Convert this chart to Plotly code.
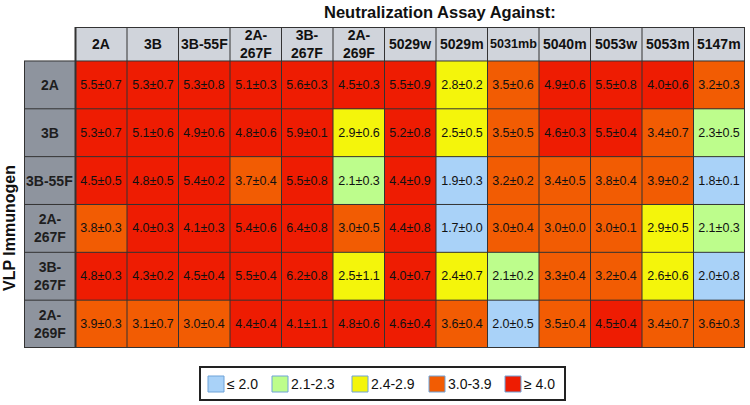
import plotly.graph_objects as go

# ---------------- data ----------------
col_labels = ["2A", "3B", "3B-55F", "2A-<br>267F", "3B-<br>267F", "2A-<br>269F",
              "5029w", "5029m", "5031mb", "5040m", "5053w", "5053m", "5147m"]
row_labels = ["2A", "3B", "3B-55F", "2A-<br>267F", "3B-<br>267F", "2A-<br>269F"]

mean_2A     = [5.5, 5.3, 5.3, 5.1, 5.6, 4.5, 5.5, 2.8, 3.5, 4.9, 5.5, 4.0, 3.2]
sd_2A       = [0.7, 0.7, 0.8, 0.3, 0.3, 0.3, 0.9, 0.2, 0.6, 0.6, 0.8, 0.6, 0.3]
mean_3B     = [5.3, 5.1, 4.9, 4.8, 5.9, 2.9, 5.2, 2.5, 3.5, 4.6, 5.5, 3.4, 2.3]
sd_3B       = [0.7, 0.6, 0.6, 0.6, 0.1, 0.6, 0.8, 0.5, 0.5, 0.3, 0.4, 0.7, 0.5]
mean_3B55F  = [4.5, 4.8, 5.4, 3.7, 5.5, 2.1, 4.4, 1.9, 3.2, 3.4, 3.8, 3.9, 1.8]
sd_3B55F    = [0.5, 0.5, 0.2, 0.4, 0.8, 0.3, 0.9, 0.3, 0.2, 0.5, 0.4, 0.2, 0.1]
mean_2A267F = [3.8, 4.0, 4.1, 5.4, 6.4, 3.0, 4.4, 1.7, 3.0, 3.0, 3.0, 2.9, 2.1]
sd_2A267F   = [0.3, 0.3, 0.3, 0.6, 0.8, 0.5, 0.8, 0.0, 0.4, 0.0, 0.1, 0.5, 0.3]
mean_3B267F = [4.8, 4.3, 4.5, 5.5, 6.2, 2.5, 4.0, 2.4, 2.1, 3.3, 3.2, 2.6, 2.0]
sd_3B267F   = [0.3, 0.2, 0.4, 0.4, 0.8, 1.1, 0.7, 0.7, 0.2, 0.4, 0.4, 0.6, 0.8]
mean_2A269F = [3.9, 3.1, 3.0, 4.4, 4.1, 4.8, 4.6, 3.6, 2.0, 3.5, 4.5, 3.4, 3.6]
sd_2A269F   = [0.3, 0.7, 0.4, 0.4, 1.1, 0.6, 0.4, 0.4, 0.5, 0.4, 0.4, 0.7, 0.3]

means = [mean_2A, mean_3B, mean_3B55F, mean_2A267F, mean_3B267F, mean_2A269F]
sds = [sd_2A, sd_3B, sd_3B55F, sd_2A267F, sd_3B267F, sd_2A269F]

legend_labels = ["≤ 2.0", "2.1-2.3", "2.4-2.9", "3.0-3.9", "≥ 4.0"]
class_upper = [2.0, 2.3, 2.9, 3.9]  # upper bounds of first four classes

# ---------------- styles ----------------
class_colors = ["#a9d2f8", "#bdfd8c", "#f4f50b", "#f25c03", "#ee1c02"]
col_head_color = "#d0d4db"
row_head_color = "#8e949e"
border = "#333333"
FONT = "Liberation Sans, Arial, Helvetica, sans-serif"

def classify(v):
    for i, ub in enumerate(class_upper):
        if v <= ub + 1e-9:
            return i
    return 4

z = [[classify(v) for v in row] for row in means]
text = [[f"{m:.1f}±{s:.1f}" for m, s in zip(mr, sr)] for mr, sr in zip(means, sds)]

n_cols = len(col_labels)
n_rows = len(row_labels)
head_h = 0.71  # header row height in row units

cs = []
for i, c in enumerate(class_colors):
    cs.append([i / 5, c])
    cs.append([(i + 1) / 5, c])

fig = go.Figure()

fig.add_trace(go.Heatmap(
    x=list(range(n_cols)), y=list(range(n_rows)), z=z,
    zmin=-0.5, zmax=4.5, colorscale=cs, showscale=False,
    text=text, texttemplate="%{text}",
    textfont=dict(size=12.5, color="#111111", family=FONT),
    hoverinfo="skip"))

# column header cells
fig.add_trace(go.Heatmap(
    x=list(range(n_cols)), y=[-0.5 - head_h, -0.5], z=[[0] * n_cols],
    colorscale=[[0, col_head_color], [1, col_head_color]], showscale=False,
    hoverinfo="skip"))

# row header cells
fig.add_trace(go.Heatmap(
    x=[-1.5, -0.5], y=list(range(n_rows)), z=[[0] for _ in range(n_rows)],
    colorscale=[[0, row_head_color], [1, row_head_color]], showscale=False,
    hoverinfo="skip"))

shapes = []
# grid lines
for j in range(n_cols + 1):
    x = j - 0.5
    w = 2 if j in (0, n_cols) else 1
    shapes.append(dict(type="line", xref="x", yref="y", x0=x, x1=x,
                       y0=-0.5 - head_h, y1=n_rows - 0.5, line=dict(color=border, width=w)))
shapes.append(dict(type="line", xref="x", yref="y", x0=-1.5, x1=-1.5,
                   y0=-0.5, y1=n_rows - 0.5, line=dict(color=border, width=2)))
for i in range(n_rows + 1):
    y = i - 0.5
    w = 2 if i == n_rows else 1
    shapes.append(dict(type="line", xref="x", yref="y", x0=-1.5, x1=n_cols - 0.5,
                       y0=y, y1=y, line=dict(color=border, width=w)))
shapes.append(dict(type="line", xref="x", yref="y", x0=-0.5, x1=n_cols - 0.5,
                   y0=-0.5 - head_h, y1=-0.5 - head_h, line=dict(color=border, width=2)))

annotations = []
for j, lab in enumerate(col_labels):
    size = 12.6 if lab == "5031mb" else 14
    annotations.append(dict(x=j, y=-0.5 - head_h / 2, xref="x", yref="y", text=f"<b>{lab}</b>",
                            showarrow=False, font=dict(size=size, color="#111111", family=FONT)))
for i, lab in enumerate(row_labels):
    annotations.append(dict(x=-1, y=i, xref="x", yref="y", text=f"<b>{lab}</b>",
                            showarrow=False, font=dict(size=14, color="#1e1e1e", family=FONT)))

# pixel helpers for paper coordinates
L, R, T, B = 24, 745, 27, 348
def px(p):
    return (p - L) / (R - L)
def py(p):
    return (B - p) / (B - T)

annotations.append(dict(x=px(440), y=py(12), xref="paper", yref="paper",
                        xanchor="center", yanchor="middle",
                        text="<b>Neutralization Assay Against:</b>", showarrow=False,
                        font=dict(size=16.5, color="#111111", family=FONT)))
annotations.append(dict(x=px(9), y=py(228), xref="paper", yref="paper",
                        xanchor="center", yanchor="middle",
                        text="<b>VLP Immunogen</b>", showarrow=False, textangle=-90,
                        font=dict(size=16, color="#111111", family=FONT)))

# legend box
shapes.append(dict(type="rect", xref="paper", yref="paper", x0=px(200), x1=px(565),
                   y0=py(400), y1=py(367), line=dict(color="#222222", width=2),
                   fillcolor="white"))
sw_x = [208, 272, 352, 429, 505]
for k, (lab, col) in enumerate(zip(legend_labels, class_colors)):
    shapes.append(dict(type="rect", xref="paper", yref="paper", x0=px(sw_x[k]), x1=px(sw_x[k] + 16),
                       y0=py(392), y1=py(376), line=dict(color="#6fa3d8", width=1),
                       fillcolor=col))
    annotations.append(dict(x=px(sw_x[k] + 17), y=py(384), xref="paper", yref="paper",
                            xanchor="left", yanchor="middle", text=lab, showarrow=False,
                            font=dict(size=14, color="#111111", family=FONT)))

fig.update_layout(
    width=750, height=405,
    margin=dict(l=L, r=750 - R, t=T, b=405 - B, autoexpand=False),
    paper_bgcolor="white", plot_bgcolor="white",
    xaxis=dict(range=[-1.5, n_cols - 0.5], visible=False, fixedrange=True),
    yaxis=dict(range=[n_rows - 0.5, -0.5 - head_h], visible=False, fixedrange=True),
    shapes=shapes, annotations=annotations, showlegend=False,
)

fig.write_html("out.html", config={"displayModeBar": False},
               post_script="document.body.style.margin='0';document.body.style.overflow='hidden';")
